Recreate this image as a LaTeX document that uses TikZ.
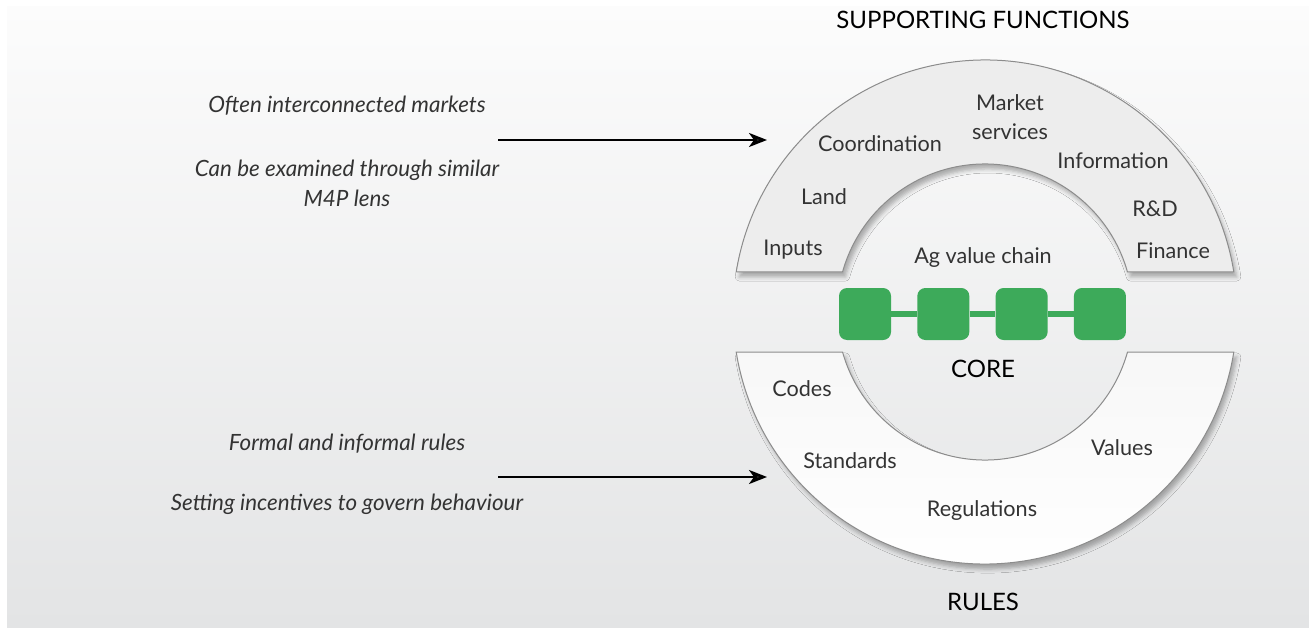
\documentclass[tikz,border=0pt]{standalone}
\usepackage{fontspec}
\setmainfont{Lato}
\usetikzlibrary{positioning,arrows.meta,shadows.blur}

\definecolor{chaingreen}{RGB}{61,170,90}
\definecolor{txtgray}{RGB}{51,51,51}
\definecolor{bgtop}{RGB}{252,252,252}
\definecolor{bgbot}{RGB}{227,228,229}

\begin{document}
\begin{tikzpicture}[x=0.5pt,y=0.5pt,
	arch/.style={draw=black!45,line width=0.5pt,blur shadow={shadow xshift=1.5pt,shadow yshift=-2.5pt,shadow opacity=30}},
	vcbox/.style={fill=chaingreen,rounded corners=4pt,minimum size=26pt,inner sep=0pt},
	lbl/.style={text=txtgray,font=\fontsize{10.8}{14.5}\selectfont,align=center},
	note/.style={text=txtgray,font=\fontsize{11.2}{15}\selectfont\itshape,align=center},
	head/.style={text=black,font=\fontsize{12}{14}\selectfont},
	pointer/.style={line width=1.3pt,-{Stealth[length=9pt,width=7pt,inset=2.5pt]}}]
	\useasboundingbox (0,0) rectangle (1309,627);
	\shade[top color=bgtop,bottom color=bgbot] (7,0) rectangle (1309,620);
	% supporting functions (upper half ring)
	\draw[arch,fill=black!7] (1233.8,355) arc[start angle=9.13,end angle=170.87,radius=252]
		-- (842.5,355) arc[start angle=164.32,end angle=15.68,radius=148] -- cycle;
	% rules (lower half ring)
	\draw[arch,top color=black!3,bottom color=white] (736.2,275) arc[start angle=189.13,end angle=350.87,radius=252]
		-- (1127.5,275) arc[start angle=-15.68,end angle=-164.32,radius=148] -- cycle;
	% value chain
	\node[vcbox] (vc1) at (865,313) {};
	\node[vcbox] (vc2) [right = 12.75pt of vc1] {};
	\node[vcbox] (vc3) [right = 12.75pt of vc2] {};
	\node[vcbox] (vc4) [right = 12.75pt of vc3] {};
	\draw[chaingreen,line width=3pt] (vc1.east) -- (vc2.west);
	\draw[chaingreen,line width=3pt] (vc2.east) -- (vc3.west);
	\draw[chaingreen,line width=3pt] (vc3.east) -- (vc4.west);
	% headings
	\node[head] (sf) at (983,607) {SUPPORTING FUNCTIONS};
	\node[head] (core) at (983,258) {CORE};
	\node[head] (rules) at (983,25) {RULES};
	% labels
	\node[lbl] (mkt) at (1010,510) {Market\\services};
	\node[lbl] (coord) at (880,483) {Coordination};
	\node[lbl] (info) at (1113,466) {Information};
	\node[lbl] (land) at (824,430) {Land};
	\node[lbl] (rnd) at (1155,418) {R\&D};
	\node[lbl] (inp) at (793,377) {Inputs};
	\node[lbl] (fin) at (1173,376) {Finance};
	\node[lbl] (agvc) at (983,369) {Ag value chain};
	\node[lbl] (codes) at (802,238) {Codes};
	\node[lbl] (std) at (850,166) {Standards};
	\node[lbl] (vals) at (1122,179) {Values};
	\node[lbl] (regs) at (982,116) {Regulations};
	% notes on the left
	\node[note] (often) at (347,521) {Often interconnected markets};
	\node[note] (lens) at (347,444) {Can be examined through similar\\M4P lens};
	\node[note] (formal) at (347,183) {Formal and informal rules};
	\node[note] (incent) at (347,123) {Setting incentives to govern behaviour};
	\coordinate (sfstart) at (498,487);
	\coordinate (sfend) at (767,487);
	\coordinate (rlstart) at (498,150);
	\coordinate (rlend) at (767,150);
	\draw[pointer] (sfstart) -- (sfend);
	\draw[pointer] (rlstart) -- (rlend);
\end{tikzpicture}
\end{document}
